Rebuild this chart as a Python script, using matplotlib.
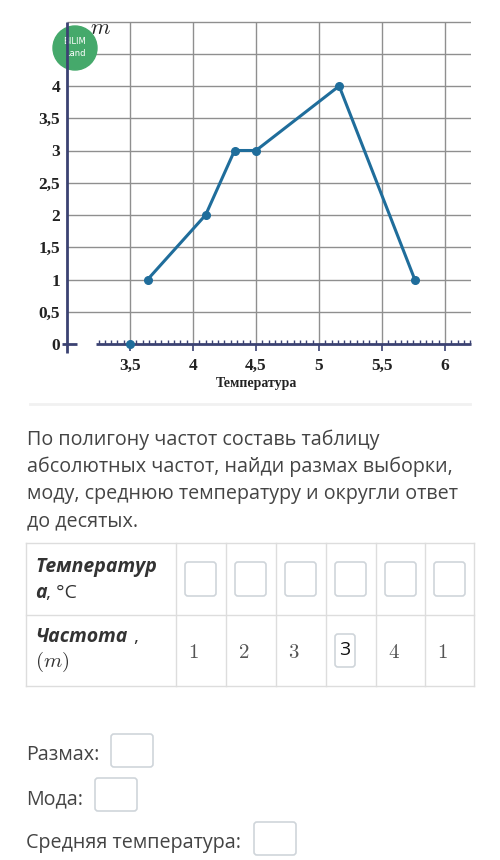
import numpy as np
import matplotlib
matplotlib.use("Agg")
from matplotlib import pyplot as plt
from matplotlib.patches import Circle, FancyBboxPatch
from matplotlib.ticker import FixedLocator, FuncFormatter

plt.rcParams["mathtext.fontset"] = "cm"

# data
start_x, start_m = 3.5, 0
temp = [3.64, 4.1, 4.33, 4.5, 5.16, 5.76]
freq = [1, 2, 3, 3, 4, 1]
x_ticks = [3.5, 4, 4.5, 5, 5.5, 6]
y_ticks = [0, 0.5, 1, 1.5, 2, 2.5, 3, 3.5, 4]
table_freq = [1, 2, 3, 3, 4, 1]
filled_col = 3  # the cell with an answer box

question = ["По полигону частот составь таблицу",
            "абсолютных частот, найди размах выборки,",
            "моду, среднюю температуру и округли ответ",
            "до десятых."]
fields = ["Размах:", "Мода:", "Средняя температура:"]

navy = "#3b4272"
line_col = "#1f6d9b"
grid_col = "#8f8f8f"
text_col = "#444444"
sans = "Open Sans"

fig = plt.figure(figsize=(5, 8.6), dpi=100)

# page overlay in pixel coords
page = fig.add_axes([0, 0, 1, 1])
page.set_xlim(0, 500)
page.set_ylim(860, 0)
page.axis("off")

# ---- chart ----
px_x, px_y = 126, 64.5
ax = fig.add_axes([67 / 500, 1 - 353 / 860, 404 / 500, 333 / 860])
ax.patch.set_visible(False)
xmax = 3.0 + 404 / px_x
ax.set_xlim(3.0, xmax)
ax.set_ylim(-9 / px_y, 324 / px_y)
for s in ax.spines.values():
    s.set_visible(False)
ax.spines["bottom"].set_position(("data", 0))

ax.hlines(np.arange(0.5, 5.01, 0.5), 3.0, xmax, color=grid_col, lw=1, zorder=1)
ax.vlines(x_ticks, 0, 5, color=grid_col, lw=1, zorder=1)

# logo
logo = Circle((75, 48), 22, transform=page.transData, color="#45a96b",
              zorder=2, clip_on=False)
ax.add_patch(logo)
for txt, yy in [("BILIM", 42), ("Land", 53)]:
    ax.text(75, yy, txt, transform=page.transData, color="white", fontsize=6,
            ha="center", va="center", family="DejaVu Sans", zorder=2.5)

# axes lines (broken x axis)
ax.vlines(3.0, -9 / px_y, 5, color=navy, lw=2, zorder=3, clip_on=False)
ax.hlines(0, 3.23, xmax, color=navy, lw=2, zorder=3, clip_on=False)
ax.hlines(0, 2.96, 3.08, color=navy, lw=2, zorder=3, clip_on=False)

ax.set_xticks(x_ticks)
ax.xaxis.set_minor_locator(FixedLocator(np.arange(3.25, 6.21, 0.05)))
ax.tick_params(axis="x", which="major", direction="out", length=5, width=1.2,
               color=navy, pad=5)
ax.tick_params(axis="x", which="minor", direction="in", length=3, width=1,
               color=navy)
fmt = FuncFormatter(lambda v, p: ("%g" % v).replace(".", ","))
ax.xaxis.set_major_formatter(fmt)
ax.set_yticks(y_ticks)
ax.yaxis.set_major_formatter(fmt)
ax.tick_params(axis="y", length=0, pad=5)
for lab in ax.get_xticklabels() + ax.get_yticklabels():
    lab.set_family("Liberation Serif")
    lab.set_weight("bold")
    lab.set_fontsize(12.5)
    lab.set_color("#222222")

ax.plot(temp, freq, color=line_col, lw=2.2, marker="o", ms=5.5, zorder=4)
ax.plot([start_x], [start_m], color=line_col, marker="o", ms=5.5, zorder=4,
        clip_on=False)

page.text(100, 28, "$m$", fontsize=16, ha="center", va="center", color="#222222")
page.text(256, 383, "Температура", family="Liberation Serif", weight="bold",
          fontsize=10, ha="center", va="center", color="#222222")

# ---- separator and question ----
page.plot([30, 470], [404, 404], color="#f1f1f1", lw=2)
for i, line in enumerate(question):
    page.text(27, 440 + 27 * i, line, family=sans, fontsize=14.2, color=text_col,
              va="center", ha="left")

# ---- table ----
cols = [26, 176, 226, 276, 326, 376, 425, 474]
rows = [543, 615, 686]
bcol = "#dddddd"
for yv in rows:
    page.plot([cols[0], cols[-1]], [yv, yv], color=bcol, lw=1)
for xv in cols:
    page.plot([xv, xv], [rows[0], rows[-1]], color=bcol, lw=1)

page.text(35, 567, "Температур", family=sans, weight="bold", style="italic",
          fontsize=14, color="#333333", va="center")
page.text(35, 593, "а", family=sans, weight="bold", style="italic",
          fontsize=14, color="#333333", va="center")
page.text(46, 593, ", °C", family=sans, fontsize=14, color="#333333", va="center")
page.text(35, 637, "Частота", family=sans, weight="bold", style="italic",
          fontsize=14, color="#333333", va="center")
page.text(133, 637, ",", family=sans, fontsize=14, color="#333333", va="center")
page.text(35, 662, "$(m)$", fontsize=15, color="#333333", va="center")

box_kw = dict(boxstyle="round,pad=0,rounding_size=3", fc="white",
              ec="#cfd5da", lw=1.2)
for c in range(6):
    x0 = cols[c + 1] + 9
    page.add_patch(FancyBboxPatch((x0, 562), 31, 34, **box_kw))
for c, v in enumerate(table_freq):
    if c == filled_col:
        page.add_patch(FancyBboxPatch((335, 634), 20, 33, **box_kw))
        page.text(345, 650, str(v), family=sans, fontsize=14, color="#111111",
                  ha="center", va="center")
    else:
        page.text(cols[c + 1] + 12, 652, "$%d$" % v, fontsize=15,
                  color="#555555", va="center")

# ---- answer fields ----
field_y = [755, 799, 843]
field_box = [111, 95, 254]
for label, yv, bx in zip(fields, field_y, field_box):
    page.text(26, yv, label, family=sans, fontsize=14.2, color=text_col,
              va="center")
    page.add_patch(FancyBboxPatch((bx, yv - 21), 42, 33, **box_kw))

fig.savefig("out.png", dpi=100)
plt.close()
